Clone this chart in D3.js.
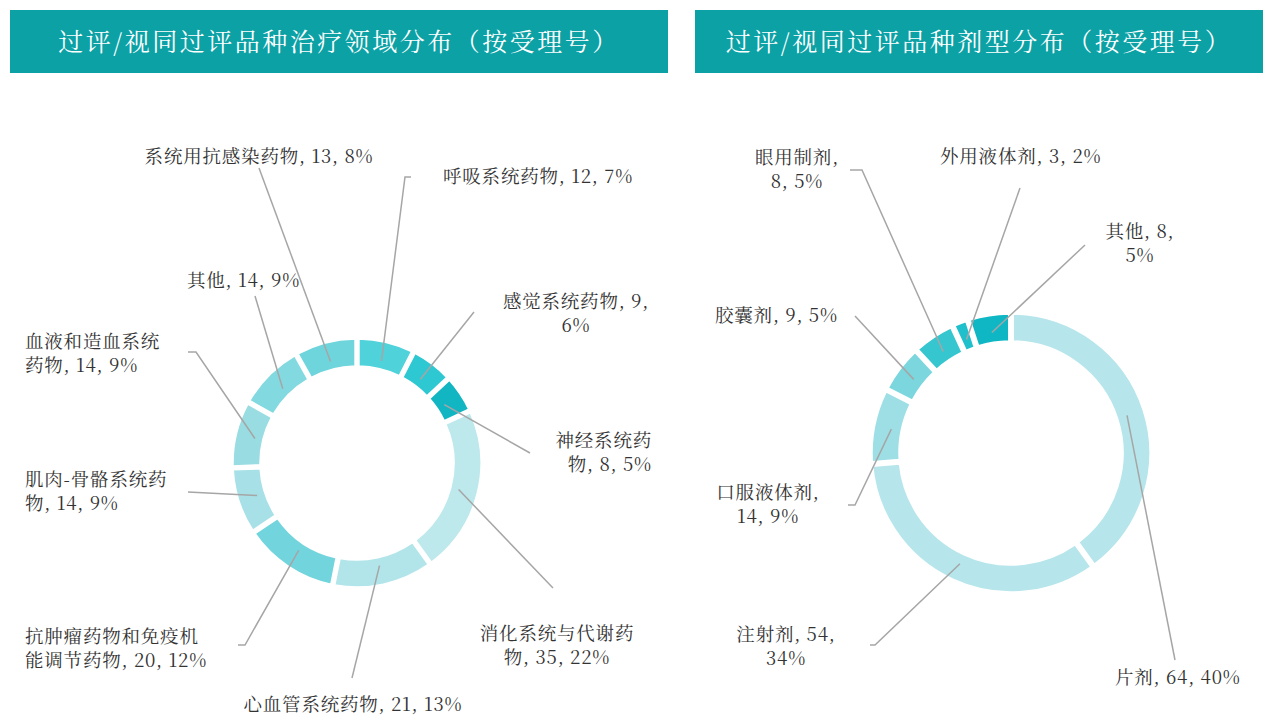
<!DOCTYPE html>
<html><head><meta charset="utf-8">
<script src="https://cdn.jsdelivr.net/npm/d3@7"></script>
<style>body{margin:0;background:#fff}svg{display:block}text{font-family:"Noto Serif CJK SC","Noto Sans CJK SC",serif}</style>
</head><body><svg id="c" width="1273" height="726"></svg>
<script>
// ---- data ----
const titles = ["过评/视同过评品种治疗领域分布（按受理号）", "过评/视同过评品种剂型分布（按受理号）"];
const areaNames = ["呼吸系统药物","感觉系统药物","神经系统药物","消化系统与代谢药物","心血管系统药物","抗肿瘤药物和免疫机能调节药物","肌肉-骨骼系统药物","血液和造血系统药物","其他","系统用抗感染药物"];
const areaValues = [12,9,8,35,21,20,14,14,14,13];
const areaLabelLines = [["呼吸系统药物, 12, 7%"],["感觉系统药物, 9,","6%"],["神经系统药","物, 8, 5%"],["消化系统与代谢药","物, 35, 22%"],["心血管系统药物, 21, 13%"],["抗肿瘤药物和免疫机","能调节药物, 20, 12%"],["肌肉-骨骼系统药","物, 14, 9%"],["血液和造血系统","药物, 14, 9%"],["其他, 14, 9%"],["系统用抗感染药物, 13, 8%"]];
const areaColors = ["#4fd2d9","#2ec8d2","#12b6c3","#bde8ec","#b2e5ea","#72d4dd","#a7e1e7","#99dde3","#83d9e0","#6fd5dc"];
const formNames = ["片剂","注射剂","口服液体剂","胶囊剂","眼用制剂","外用液体剂","其他"];
const formValues = [64,54,14,9,8,3,8];
const formLabelLines = [["片剂, 64, 40%"],["注射剂, 54,","34%"],["口服液体剂,","14, 9%"],["胶囊剂, 9, 5%"],["眼用制剂,","8, 5%"],["外用液体剂, 3, 2%"],["其他, 8,","5%"]];
const formColors = ["#b6e6eb","#b6e6eb","#9edfe5","#7bd6de","#35c6d0","#1fbfcb","#0fb7c4"];
// ---- layout (not data) ----
const areaLayout = [
 {tx:443,ty:177,anchor:"start",path:[[411,177],[405,177]]},
 {tx:576,ty:302,anchor:"middle",path:[[474,312]]},
 {tx:652,ty:441,anchor:"end",path:[[530,453]]},
 {tx:557,ty:634,anchor:"middle",path:[[553,588]]},
 {tx:353,ty:705,anchor:"middle",path:[[352,678]]},
 {tx:25,ty:637,anchor:"start",path:[[238,645],[245,645]]},
 {tx:25,ty:480,anchor:"start",path:[[188,492]]},
 {tx:25,ty:342,anchor:"start",path:[[188,352],[196,352]]},
 {tx:187,ty:281,anchor:"start",path:[[255,296]]},
 {tx:259,ty:157,anchor:"middle",path:[[259,168]]}
];
const formLayout = [
 {tx:1115,ty:678,anchor:"start",path:[[1175,660]]},
 {tx:786,ty:635,anchor:"middle",path:[[870,645],[875,645]]},
 {tx:768,ty:493,anchor:"middle",path:[[848,505],[855,505]]},
 {tx:715,ty:316,anchor:"start",path:[[855,316]]},
 {tx:797,ty:158,anchor:"middle",path:[[850,170],[862,170]]},
 {tx:940,ty:157,anchor:"start",path:[[1020,188]]},
 {tx:1140,ty:232,anchor:"middle",path:[[1085,245]]}
];
const svg = d3.select("#c");
[[10,658],[695,568]].forEach(([x,w],i)=>{
  svg.append("rect").attr("x",x).attr("y",10).attr("width",w).attr("height",63).attr("fill","#0ba1a5");
  svg.append("text").attr("x",x+w/2).attr("y",51).attr("text-anchor","middle").attr("fill","#fff").attr("font-size",25).attr("letter-spacing",2.5).text(titles[i]);
});
function donut(cx,cy,ro,ri,values,colors,lines,layout,lineR){
  const pie = d3.pie().sort(null).value(d=>d)(values);
  const arc = d3.arc().innerRadius(ri).outerRadius(ro).padAngle(0.025);
  const g = svg.append("g").attr("transform",`translate(${cx},${cy})`);
  g.selectAll("path").data(pie).join("path").attr("d",arc).attr("fill",(d,i)=>colors[i]).attr("stroke","#fff").attr("stroke-width",1.5);
  const inner = d3.arc().innerRadius(lineR).outerRadius(lineR);
  pie.forEach((d,i)=>{
    const L = layout[i];
    const c = inner.centroid(d);
    const pts = L.path.concat([[c[0]+cx,c[1]+cy]]);
    svg.append("path").attr("d",d3.line()(pts)).attr("fill","none").attr("stroke","#a6a6a6").attr("stroke-width",1.5);
    const t = svg.append("text").attr("text-anchor",L.anchor).attr("font-size",18.5).attr("letter-spacing",0.8).attr("fill","#333");
    lines[i].forEach((s,k)=>t.append("tspan").attr("x",L.tx).attr("y",L.ty+k*24+6).text(s));
  });
}
donut(357,463,124,97,areaValues,areaColors,areaLabelLines,areaLayout,105);
donut(1011,453,139,112,formValues,formColors,formLabelLines,formLayout,122);
</script></body></html>
